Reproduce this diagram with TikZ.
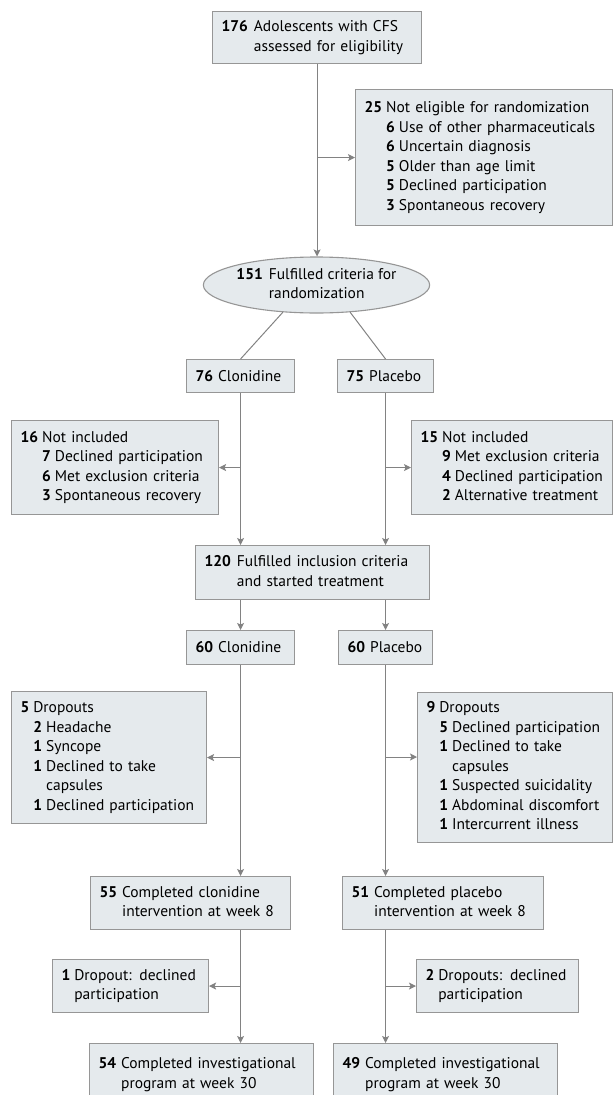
\documentclass[tikz,border=0pt]{standalone}
\usepackage{fontspec}
\setmainfont{PT Sans}
\usetikzlibrary{shapes.geometric,arrows.meta}

\definecolor{boxfill}{RGB}{229,234,237}
\definecolor{boxline}{RGB}{150,150,150}
\definecolor{flowline}{RGB}{130,130,130}

\newcommand{\cnt}[1]{\textbf{#1}}

\begin{document}
\begin{tikzpicture}[x=1pt, y=-1pt,
    every node/.style={font=\fontsize{15.5}{19.5}\selectfont},
    box/.style={draw=boxline, fill=boxfill, line width=1.1pt, anchor=north west,
      align=left, inner xsep=9pt, inner ysep=0pt},
    oval/.style={ellipse, draw=boxline, fill=boxfill, line width=1.1pt, inner sep=0pt},
    flow/.style={draw=flowline, line width=1pt},
    arr/.style={flow, -{Stealth[length=7pt, width=7pt, inset=1.5pt]}}]
  \useasboundingbox (0,0) rectangle (614,1095);
  \clip (0,0) rectangle (614,1095);

  % screening
  \node[box, minimum width=209pt, text width=191pt, minimum height=52pt] (elig) at (212,11)
    {\begin{tabular}{@{}l@{\hspace{6pt}}l@{}}\cnt{176} & Adolescents with CFS\\ & assessed for eligibility\end{tabular}};
  \node[box, minimum width=257pt, text width=239pt, minimum height=136pt] (inel) at (355,89)
    {\begin{tabular}{@{}l@{\hspace{4pt}}l@{\hspace{4pt}}l@{}}
      \cnt{25} & \multicolumn{2}{@{}l@{}}{Not eligible for randomization}\\
      & \cnt{6} & Use of other pharmaceuticals\\
      & \cnt{6} & Uncertain diagnosis\\
      & \cnt{5} & Older than age limit\\
      & \cnt{5} & Declined participation\\
      & \cnt{3} & Spontaneous recovery
    \end{tabular}};
  \node[oval, minimum width=208pt, minimum height=56pt] (rand) at (316.5,285)
    {\begin{tabular}{@{}l@{\hspace{6pt}}l@{}}\cnt{151} & Fulfilled criteria for\\ & randomization\end{tabular}};

  % randomization
  \node[box, minimum width=108pt, text width=90pt, minimum height=33pt] (clon76) at (186,359)
    {\cnt{76}\hspace{5pt}Clonidine};
  \node[box, minimum width=96pt, text width=78pt, minimum height=33pt] (plac75) at (337,359)
    {\cnt{75}\hspace{5pt}Placebo};
  \node[box, minimum width=207pt, text width=189pt, minimum height=94pt] (excl1) at (11,420)
    {\begin{tabular}{@{}l@{\hspace{4pt}}l@{\hspace{4pt}}l@{}}
      \cnt{16} & \multicolumn{2}{@{}l@{}}{Not included}\\
      & \cnt{7} & Declined participation\\
      & \cnt{6} & Met exclusion criteria\\
      & \cnt{3} & Spontaneous recovery
    \end{tabular}};
  \node[box, minimum width=201pt, text width=183pt, minimum height=94pt] (excl2) at (411,420)
    {\begin{tabular}{@{}l@{\hspace{4pt}}l@{\hspace{4pt}}l@{}}
      \cnt{15} & \multicolumn{2}{@{}l@{}}{Not included}\\
      & \cnt{9} & Met exclusion criteria\\
      & \cnt{4} & Declined participation\\
      & \cnt{2} & Alternative treatment
    \end{tabular}};
  \node[box, minimum width=234pt, text width=216pt, minimum height=54pt] (incl) at (195,545)
    {\begin{tabular}{@{}l@{\hspace{6pt}}l@{}}\cnt{120} & Fulfilled inclusion criteria\\ & and started treatment\end{tabular}};

  % treatment
  \node[box, minimum width=108pt, text width=90pt, minimum height=34pt] (clon60) at (186,630)
    {\cnt{60}\hspace{5pt}Clonidine};
  \node[box, minimum width=94pt, text width=76pt, minimum height=34pt] (plac60) at (338,630)
    {\cnt{60}\hspace{5pt}Placebo};
  \node[box, minimum width=195pt, text width=177pt, minimum height=132pt] (drop1) at (11,691)
    {\begin{tabular}{@{}l@{\hspace{4pt}}l@{\hspace{4pt}}l@{}}
      \cnt{5} & \multicolumn{2}{@{}l@{}}{Dropouts}\\
      & \cnt{2} & Headache\\
      & \cnt{1} & Syncope\\
      & \cnt{1} & Declined to take\\
      & & capsules\\
      & \cnt{1} & Declined participation
    \end{tabular}};
  \node[box, minimum width=195pt, text width=177pt, minimum height=150pt] (drop2) at (417,692)
    {\begin{tabular}{@{}l@{\hspace{4pt}}l@{\hspace{4pt}}l@{}}
      \cnt{9} & \multicolumn{2}{@{}l@{}}{Dropouts}\\
      & \cnt{5} & Declined participation\\
      & \cnt{1} & Declined to take\\
      & & capsules\\
      & \cnt{1} & Suspected suicidality\\
      & \cnt{1} & Abdominal discomfort\\
      & \cnt{1} & Intercurrent illness
    \end{tabular}};
  \node[box, minimum width=200pt, text width=182pt, minimum height=53pt] (comp55) at (90,876)
    {\begin{tabular}{@{}l@{\hspace{5pt}}l@{}}\cnt{55} & Completed clonidine\\ & intervention at week 8\end{tabular}};
  \node[box, minimum width=201pt, text width=183pt, minimum height=53pt] (comp51) at (342,876)
    {\begin{tabular}{@{}l@{\hspace{5pt}}l@{}}\cnt{51} & Completed placebo\\ & intervention at week 8\end{tabular}};

  % follow-up
  \node[box, minimum width=156pt, text width=138pt, minimum height=53pt] (drop55) at (52,959)
    {\begin{tabular}{@{}l@{\hspace{4pt}}l@{}}\cnt{1} & Dropout: declined\\ & participation\end{tabular}};
  \node[box, minimum width=162pt, text width=144pt, minimum height=53pt] (drop51) at (416,959)
    {\begin{tabular}{@{}l@{\hspace{4pt}}l@{}}\cnt{2} & Dropouts: declined\\ & participation\end{tabular}};
  \node[box, minimum width=224pt, text width=206pt, minimum height=62pt] (fin54) at (89,1043)
    {\begin{tabular}{@{}l@{\hspace{5pt}}l@{}}\cnt{54} & Completed investigational\\ & program at week 30\end{tabular}};
  \node[box, minimum width=224pt, text width=206pt, minimum height=62pt] (fin49) at (333,1043)
    {\begin{tabular}{@{}l@{\hspace{5pt}}l@{}}\cnt{49} & Completed investigational\\ & program at week 30\end{tabular}};

  \coordinate (split2) at (385,757);

  % connectors
  \draw[arr] (elig.south) -- (elig.south |- rand.north);
  \draw[arr] (elig.south |- inel.west) -- (inel.west);
  \draw[flow] (rand.-141) -- (clon76.north);
  \draw[flow] (rand.-39) -- (plac75.north);
  \draw[arr] (clon76.south) -- (clon76.south |- incl.north);
  \draw[arr] (plac75.south) -- (plac75.south |- incl.north);
  \draw[arr] (clon76.south |- excl1.east) -- (excl1.east);
  \draw[arr] (plac75.south |- excl2.west) -- (excl2.west);
  \draw[arr] (incl.south -| clon60.north) -- (clon60.north);
  \draw[arr] (incl.south -| plac60.north) -- (plac60.north);
  \draw[arr] (clon60.south) -- (clon60.south |- comp55.north);
  \draw[arr] (plac60.south) -- (plac60.south |- comp51.north);
  \draw[arr] (clon60.south |- drop1.east) -- (drop1.east);
  \draw[arr] (split2) -- (split2 -| drop2.west);
  \draw[arr] (clon60.south |- comp55.south) -- (clon60.south |- fin54.north);
  \draw[arr] (plac60.south |- comp51.south) -- (plac60.south |- fin49.north);
  \draw[arr] (clon60.south |- drop55.east) -- (drop55.east);
  \draw[arr] (plac60.south |- drop51.west) -- (drop51.west);
\end{tikzpicture}
\end{document}
